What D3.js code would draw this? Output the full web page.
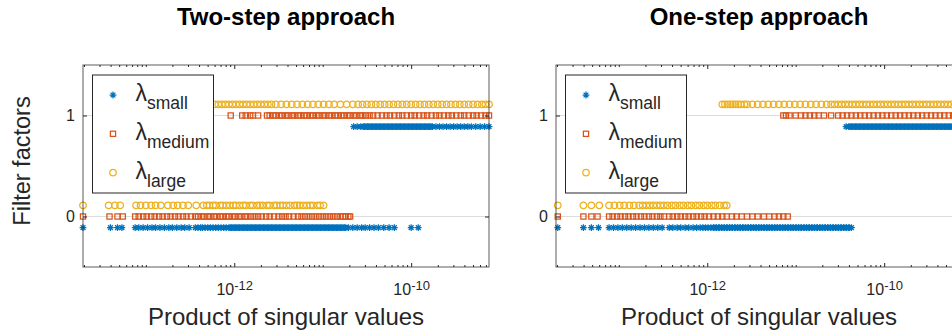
<!DOCTYPE html>
<html>
<head>
<meta charset="utf-8">
<script src="https://cdn.jsdelivr.net/npm/d3@7"></script>
<style>
  body { margin: 0; background: #fff; }
  svg { display: block; font-family: "Liberation Sans", Arial, Helvetica, sans-serif; }
</style>
</head>
<body>
<script>
// log10 of the product of singular values, split by the filter factor (0 or 1) it got

// --- two-step approach ---
const twoStepSmall0 = [-13.71, -13.40, -13.32, -13.27,
  -13.12, -13.08, -13.03, -12.98, -12.93, -12.89, -12.84, -12.79, -12.74, -12.70, -12.65, -12.60, -12.56, -12.51,
  -12.44, -12.41, -12.38, -12.36, -12.33, -12.30, -12.27, -12.24, -12.21, -12.18, -12.15, -12.12, -12.09, -12.06,
  -12.03, -12.00, -11.97, -11.94, -11.91, -11.88, -11.85, -11.82, -11.79, -11.76, -11.73, -11.70, -11.67, -11.64,
  -11.61, -11.58, -11.55, -11.52, -11.49, -11.46, -11.43, -11.40, -11.37, -11.34, -11.31, -11.28, -11.25, -11.22,
  -11.19, -11.16, -11.13, -11.10, -11.07, -11.04, -11.01, -10.98, -10.95, -10.92, -10.89, -10.86, -10.83, -10.80,
  -10.77, -10.74, -10.71, -10.66, -10.61, -10.56, -10.52, -10.47, -10.42, -10.37, -10.31, -10.25, -10.19,
  -10.00, -9.92,
  -12.045, -12.015, -11.985, -11.955, -11.925, -11.895, -11.865, -11.835, -11.805, -11.775, -11.745, -11.715,
  -11.685, -11.655, -11.625, -11.595, -11.565, -11.535, -11.505, -11.475, -11.445, -11.415, -11.385, -11.355,
  -11.325, -11.295, -11.265, -11.235, -11.205, -11.175, -11.145, -11.115, -11.085, -11.055, -11.025, -10.995,
  -10.965, -10.935, -10.905, -10.875, -10.845, -10.815, -10.785, -10.755];
const twoStepSmall1 = [-10.65, -10.61, -10.57, -10.54, -10.51, -10.48, -10.45, -10.42, -10.39, -10.36, -10.33,
  -10.30, -10.27, -10.24, -10.21, -10.18, -10.15, -10.12, -10.09, -10.06, -10.03, -10.00, -9.97, -9.94, -9.91,
  -9.88, -9.85, -9.82, -9.79, -9.76, -9.72, -9.68, -9.64, -9.60, -9.56, -9.52, -9.48, -9.44, -9.40, -9.36, -9.32,
  -9.27, -9.22, -9.17, -9.12,
  -10.525, -10.495, -10.465, -10.435, -10.405, -10.375, -10.345, -10.315, -10.285, -10.255, -10.225, -10.195,
  -10.165, -10.135, -10.105, -10.075, -10.045, -10.015, -9.985, -9.955, -9.925, -9.895, -9.865, -9.835, -9.805, -9.775];
const twoStepMedium0 = [-13.71, -13.41, -13.32, -13.26,
  -13.12, -13.08, -13.03, -12.99, -12.94, -12.90, -12.85, -12.81, -12.76, -12.72, -12.67, -12.63, -12.58, -12.54, -12.49,
  -12.44, -12.41, -12.37, -12.34, -12.30, -12.27, -12.23, -12.20, -12.16, -12.13, -12.09, -12.06, -12.02, -11.99,
  -11.95, -11.92, -11.88, -11.85, -11.81, -11.77, -11.73, -11.69, -11.64, -11.60, -11.55, -11.50, -11.46, -11.42,
  -11.38, -11.33, -11.28, -11.24, -11.20, -11.16, -11.12, -11.08, -11.04, -11.00, -10.96, -10.92, -10.88, -10.84,
  -10.80, -10.77, -10.74, -10.71, -10.69];
const twoStepMedium1 = [-12.04, -11.91, -11.87, -11.82, -11.79, -11.73, -11.63, -11.60, -11.56, -11.53, -11.49,
  -11.46, -11.42, -11.39, -11.35, -11.32, -11.28, -11.25, -11.21, -11.18, -11.14, -11.11, -11.07, -11.04, -11.00,
  -10.97, -10.93, -10.90, -10.86, -10.83, -10.79, -10.76, -10.72, -10.69, -10.65, -10.62, -10.58, -10.55, -10.51,
  -10.47, -10.43, -10.38, -10.33, -10.28, -10.24, -10.19, -10.14, -10.10, -10.05, -10.00, -9.96, -9.91, -9.86,
  -9.82, -9.77, -9.72, -9.68, -9.63, -9.58, -9.54, -9.49, -9.44, -9.40, -9.35, -9.30, -9.26, -9.21, -9.16, -9.12];
const twoStepLarge0 = [-13.71, -13.42, -13.35, -13.29, -13.11, -13.06, -13.00, -12.94, -12.89, -12.83, -12.75,
  -12.69, -12.64, -12.58, -12.52, -12.43, -12.35, -12.31, -12.28, -12.24, -12.21, -12.16, -12.13, -12.09, -12.05,
  -12.01, -11.98, -11.94, -11.90, -11.87, -11.82, -11.79, -11.74, -11.71, -11.68, -11.63, -11.60, -11.55, -11.52,
  -11.48, -11.45, -11.41, -11.37, -11.32, -11.29, -11.26, -11.22, -11.18, -11.14, -11.11, -11.06, -11.03, -10.99];
const twoStepLarge1 = [-12.22, -12.18, -12.14, -12.10, -12.06, -12.02, -11.98, -11.94, -11.90, -11.86, -11.82,
  -11.78, -11.74, -11.70, -11.66, -11.62, -11.58, -11.53, -11.47, -11.41, -11.35, -11.29, -11.23, -11.17, -11.11,
  -11.05, -10.99, -10.93, -10.87, -10.80, -10.73, -10.66, -10.60, -10.55, -10.50, -10.45, -10.40, -10.35, -10.30,
  -10.25, -10.20, -10.15, -10.10, -10.05, -10.00, -9.95, -9.90, -9.85, -9.80, -9.75, -9.70, -9.65, -9.60, -9.55,
  -9.50, -9.45, -9.40, -9.35, -9.30, -9.25, -9.20, -9.16, -9.12];

// --- one-step approach ---
const oneStepSmall0 = [-13.69, -13.40, -13.31, -13.23,
  -13.11, -13.06, -13.01, -12.96, -12.91, -12.86, -12.81, -12.76, -12.71, -12.66, -12.61, -12.56, -12.51,
  -12.43, -12.39, -12.34, -12.30, -12.25, -12.21, -12.16, -12.12,
  -12.08, -12.05, -12.02, -11.99, -11.96, -11.93, -11.90, -11.87, -11.84, -11.81, -11.78, -11.75, -11.72, -11.69,
  -11.66, -11.63, -11.60, -11.57, -11.54, -11.51, -11.48, -11.45, -11.42, -11.39, -11.36, -11.33, -11.30, -11.27,
  -11.24, -11.21, -11.18, -11.15, -11.12, -11.09, -11.06, -11.03, -11.00, -10.97, -10.94, -10.91, -10.88, -10.85,
  -10.82, -10.79, -10.76, -10.73, -10.70, -10.67, -10.64, -10.61, -10.58, -10.55, -10.52, -10.49, -10.46, -10.43,
  -10.40, -10.37,
  -11.925, -11.895, -11.865, -11.835, -11.805, -11.775, -11.745, -11.715, -11.685, -11.655, -11.625, -11.595,
  -11.565, -11.535, -11.505, -11.475, -11.445, -11.415, -11.385, -11.355, -11.325, -11.295, -11.265, -11.235,
  -11.205, -11.175, -11.145, -11.115, -11.085, -11.055, -11.025, -10.995, -10.965, -10.935, -10.905, -10.875,
  -10.845, -10.815, -10.785, -10.755, -10.725, -10.695, -10.665, -10.635, -10.605, -10.575, -10.545, -10.515,
  -10.485, -10.455, -10.425, -10.395];
const oneStepSmall1 = [-10.43, -10.40, -10.37, -10.34, -10.31, -10.28, -10.25, -10.22, -10.19, -10.16, -10.13,
  -10.10, -10.07, -10.04, -10.01, -9.98, -9.95, -9.92, -9.89, -9.86, -9.83, -9.80, -9.77, -9.74, -9.71, -9.68,
  -9.65, -9.62, -9.59, -9.56, -9.53, -9.50, -9.47, -9.44, -9.41, -9.38, -9.35, -9.32, -9.29, -9.26, -9.23, -9.20,
  -9.17, -9.14,
  -10.385, -10.355, -10.325, -10.295, -10.265, -10.235, -10.205, -10.175, -10.145, -10.115, -10.085, -10.055,
  -10.025, -9.995, -9.965, -9.935, -9.905, -9.875, -9.845, -9.815, -9.785, -9.755, -9.725, -9.695, -9.665,
  -9.635, -9.605, -9.575, -9.545, -9.515, -9.485, -9.455, -9.425, -9.395, -9.365, -9.335, -9.305, -9.275,
  -9.245, -9.215, -9.185, -9.155];
const oneStepMedium0 = [-13.69, -13.40, -13.31, -13.24,
  -13.11, -13.07, -13.02, -12.98, -12.93, -12.89, -12.84, -12.80, -12.75, -12.71, -12.66, -12.62, -12.57, -12.53, -12.49,
  -12.43, -12.39, -12.34, -12.30, -12.25, -12.21, -12.16, -12.12, -12.07, -12.03, -11.98,
  -11.93, -11.88, -11.83, -11.78, -11.72, -11.67, -11.61, -11.55, -11.49, -11.43, -11.36, -11.30, -11.24, -11.19,
  -11.14, -11.09];
const oneStepMedium1 = [-11.14, -11.11, -11.07, -11.00, -10.94, -10.89, -10.84, -10.79, -10.74, -10.68, -10.60,
  -10.52, -10.47, -10.42, -10.37, -10.32, -10.27, -10.22, -10.17, -10.12, -10.07, -10.02, -9.97, -9.92, -9.87,
  -9.82, -9.77, -9.72, -9.67, -9.62, -9.57, -9.52, -9.47, -9.42, -9.37, -9.32, -9.27, -9.22, -9.17, -9.13];
const oneStepLarge0 = [-13.69, -13.40, -13.31, -13.22, -13.11, -13.05, -12.99, -12.94, -12.88, -12.83, -12.77,
  -12.73, -12.69, -12.65, -12.61, -12.57, -12.53, -12.49, -12.45, -12.40, -12.36, -12.31, -12.27, -12.22, -12.18,
  -12.13, -12.09, -12.04, -12.00, -11.95, -11.91, -11.86, -11.81, -11.78];
const oneStepLarge1 = [-11.83, -11.80, -11.77, -11.74, -11.71, -11.68, -11.65, -11.62, -11.58, -11.55, -11.49,
  -11.43, -11.37, -11.31, -11.25, -11.19, -11.13, -11.07, -11.01, -10.95, -10.89, -10.83, -10.77, -10.71, -10.65,
  -10.60, -10.56, -10.52, -10.48, -10.44, -10.40, -10.36, -10.32, -10.28, -10.24, -10.20, -10.16, -10.12, -10.08,
  -10.04, -10.00, -9.96, -9.92, -9.88, -9.84, -9.80, -9.76, -9.72, -9.68, -9.64, -9.60, -9.56, -9.52, -9.48,
  -9.44, -9.40, -9.36, -9.32, -9.28, -9.24, -9.20, -9.16, -9.13];

const seriesNames = ['small', 'medium', 'large'];
const panelTitles = ['Two-step approach', 'One-step approach'];
const xTickExponents = [-12, -10];
const yTickValues = [0, 1];
const xLimits = [-13.71, -9.12];   // log10
const yLimits = [-0.5, 1.5];

const panels = [
  [[twoStepSmall0, twoStepSmall1], [twoStepMedium0, twoStepMedium1], [twoStepLarge0, twoStepLarge1]],
  [[oneStepSmall0, oneStepSmall1], [oneStepMedium0, oneStepMedium1], [oneStepLarge0, oneStepLarge1]]
];

const W = 952, H = 335;
const plotLefts = [83, 556];
const plotTop = 65, plotW = 406, plotH = 202;
const colors = ['#0072BD', '#D95319', '#EDB120'];
const yOffsets = [-0.11, 0, 0.11];     // small below, large above the level
const axisColor = '#262626';

const svg = d3.select('body').append('svg').attr('width', W).attr('height', H);

const x = d3.scaleLog().domain([Math.pow(10, xLimits[0]), Math.pow(10, xLimits[1])]).range([0, plotW]);
const y = d3.scaleLinear().domain(yLimits).range([plotH, 0]);

let minorTicks = [];
for (let k = -14; k <= -9; k++)
  for (let m = 1; m <= 9; m++) {
    const v = m * Math.pow(10, k);
    if (v >= x.domain()[0] && v <= x.domain()[1] && !(m == 1 && xTickExponents.includes(k))) minorTicks.push(v);
  }

function starPath(r) {
  const d = r * 0.7071;
  return `M${-r},0H${r}M0,${-r}V${r}M${-d},${-d}L${d},${d}M${-d},${d}L${d},${-d}`;
}

function drawMarker(sel, i) {
  if (i == 0) {
    sel.append('path').attr('d', starPath(3.4));
  } else if (i == 1) {
    sel.append('rect').attr('x', -2.6).attr('y', -2.6).attr('width', 5.2).attr('height', 5.2);
  } else {
    sel.append('circle').attr('r', 3.3);
  }
  sel.attr('fill', 'none').attr('stroke', colors[i]).attr('stroke-width', 1.25);
}

function styleAxis(g) {
  g.select('.domain').remove();
  g.selectAll('.tick line').attr('stroke', axisColor);
  g.attr('font-family', null).attr('font-size', 16);
  g.selectAll('.tick text').attr('fill', axisColor);
}

function drawPanel(p) {
  const left = plotLefts[p];
  const g = svg.append('g').attr('transform', `translate(${left},${plotTop})`);

  // horizontal grid
  g.selectAll('.grid').data(yTickValues).enter().append('line')
    .attr('x1', 0).attr('x2', plotW)
    .attr('y1', d => y(d)).attr('y2', d => y(d))
    .attr('stroke', '#dcdcdc').attr('stroke-width', 1);

  // scatter points
  panels[p].forEach((levels, i) => {
    let pts = [];
    levels.forEach((vals, lvl) => vals.forEach(e => pts.push([Math.pow(10, e), lvl])));
    g.append('g').selectAll('g').data(pts).enter().append('g')
      .attr('transform', d => `translate(${x(d[0])},${y(d[1] + yOffsets[i])})`)
      .each(function() { drawMarker(d3.select(this), i); });
  });

  // axes: ticks inward on all four sides
  g.append('g').attr('transform', `translate(0,${plotH})`)
    .call(d3.axisBottom(x).tickValues(xTickExponents.map(k => Math.pow(10, k)))
      .tickSizeInner(-4).tickSizeOuter(0).tickPadding(17).tickFormat(''))
    .call(styleAxis)
    .selectAll('.tick text').each(function(d) {
      const t = d3.select(this);
      const k = Math.round(Math.log10(d));
      t.append('tspan').text('10');
      t.append('tspan').attr('dy', '-0.45em').attr('font-size', 13).text(String(k));
    });
  g.append('g').attr('transform', `translate(0,${plotH})`)
    .call(d3.axisBottom(x).tickValues(minorTicks).tickSizeInner(-2).tickSizeOuter(0).tickFormat(''))
    .call(styleAxis);
  g.append('g')
    .call(d3.axisTop(x).tickValues(xTickExponents.map(k => Math.pow(10, k))).tickSizeInner(-4).tickSizeOuter(0).tickFormat(''))
    .call(styleAxis);
  g.append('g')
    .call(d3.axisTop(x).tickValues(minorTicks).tickSizeInner(-2).tickSizeOuter(0).tickFormat(''))
    .call(styleAxis);
  g.append('g')
    .call(d3.axisLeft(y).tickValues(yTickValues).tickSizeInner(-4).tickSizeOuter(0).tickPadding(8).tickFormat(d3.format('d')))
    .call(styleAxis);
  g.append('g').attr('transform', `translate(${plotW},0)`)
    .call(d3.axisRight(y).tickValues(yTickValues).tickSizeInner(-4).tickSizeOuter(0).tickFormat(''))
    .call(styleAxis);

  g.append('rect').attr('width', plotW).attr('height', plotH)
    .attr('fill', 'none').attr('stroke', axisColor).attr('stroke-opacity', 0.75).attr('stroke-width', 1);

  // legend
  const lg = g.append('g').attr('transform', 'translate(9.5,10)');
  lg.append('rect').attr('width', 121).attr('height', 118)
    .attr('fill', '#fff').attr('stroke', axisColor).attr('stroke-width', 1);
  seriesNames.forEach((name, i) => {
    const row = lg.append('g').attr('transform', `translate(0,${20 + i * 38.8})`);
    drawMarker(row.append('g').attr('transform', 'translate(20.5,0)'), i);
    const t = row.append('text').attr('x', 43).attr('y', 6).attr('fill', axisColor).attr('font-size', 23);
    t.append('tspan').text('\u03bb');
    t.append('tspan').attr('dy', 8).attr('font-size', 17.5).text(name);
  });

  // title and x label
  svg.append('text').attr('x', left + plotW / 2).attr('y', 25)
    .attr('text-anchor', 'middle').attr('font-weight', 'bold').attr('font-size', 24)
    .attr('fill', '#000').text(panelTitles[p]);
  svg.append('text').attr('x', left + plotW / 2).attr('y', 325)
    .attr('text-anchor', 'middle').attr('font-size', 24)
    .attr('fill', axisColor).text('Product of singular values');
}

drawPanel(0);
drawPanel(1);

svg.append('text').attr('transform', 'translate(30,161) rotate(-90)')
  .attr('text-anchor', 'middle').attr('font-size', 23.5)
  .attr('fill', axisColor).text('Filter factors');
</script>
</body>
</html>
